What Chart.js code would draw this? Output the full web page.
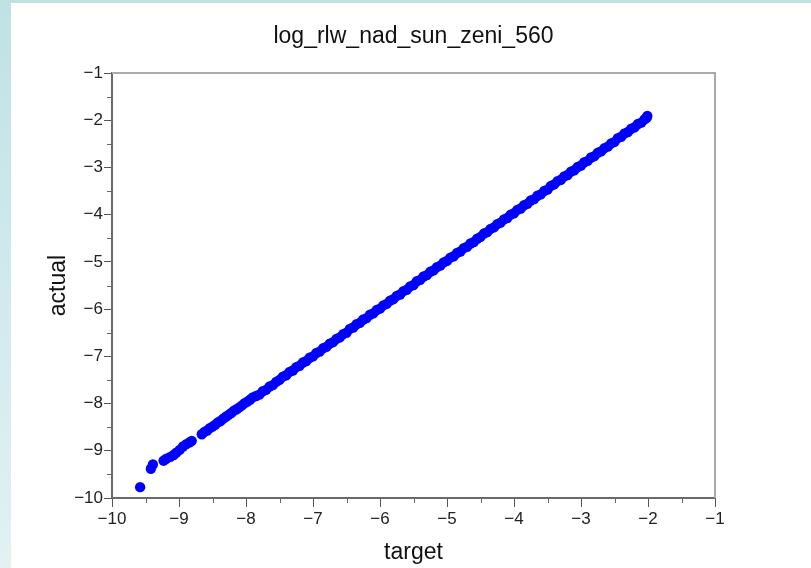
<!DOCTYPE html>
<html>
<head>
<meta charset="utf-8">
<title>log_rlw_nad_sun_zeni_560</title>
<script src="https://cdn.jsdelivr.net/npm/chart.js@4.4.1/dist/chart.umd.min.js"></script>
<style>
  html, body { margin: 0; padding: 0; }
  body {
    width: 811px;
    height: 568px;
    overflow: hidden;
    background: linear-gradient(to bottom, #bfe2e5, #e3f1f3);
    position: relative;
  }
  #chart {
    position: absolute;
    left: 11px;
    top: 3px;
    background: #fff;
  }
</style>
</head>
<body>
<canvas id="chart" width="800" height="565"></canvas>
<script>
// target vs actual values (log space)
const target = [
  -9.58, -9.42, -9.39, -9.23, -9.19, -9.13, -9.08, -9.04, -8.99, -8.94, -8.89, -8.84, -8.81,
  -8.66, -8.62, -8.58, -8.54, -8.50, -8.46, -8.42, -8.38, -8.34, -8.30, -8.26, -8.22, -8.18,
  -8.14, -8.10, -8.06, -8.02, -7.98, -7.94, -7.90,
  -7.85, -7.80, -7.75, -7.70, -7.65, -7.60, -7.55, -7.50, -7.45, -7.40, -7.35, -7.30, -7.25,
  -7.20, -7.15, -7.10, -7.05, -7.00, -6.95, -6.90, -6.85, -6.80, -6.75, -6.70, -6.65, -6.60,
  -6.55, -6.50, -6.45, -6.40, -6.35, -6.30, -6.25, -6.20, -6.15, -6.10, -6.05, -6.00, -5.95,
  -5.90, -5.85, -5.80, -5.75, -5.70, -5.65, -5.60, -5.55, -5.50, -5.45, -5.40, -5.35, -5.30,
  -5.25, -5.20, -5.15, -5.10, -5.05, -5.00, -4.95, -4.90, -4.85, -4.80, -4.75, -4.70, -4.65,
  -4.60, -4.55, -4.50, -4.45, -4.40, -4.35, -4.30, -4.25, -4.20, -4.15, -4.10, -4.05, -4.00,
  -3.95, -3.90, -3.85, -3.80, -3.75, -3.70, -3.65, -3.60, -3.55, -3.50, -3.45, -3.40, -3.35,
  -3.30, -3.25, -3.20, -3.15, -3.10, -3.05, -3.00, -2.95, -2.90, -2.85, -2.80, -2.75, -2.70,
  -2.65, -2.60, -2.55, -2.50, -2.45, -2.40, -2.35, -2.30, -2.25, -2.20, -2.15, -2.10, -2.05,
  -2.02, -2.01
];
const actual = [
  -9.77, -9.38, -9.29, -9.21, -9.17, -9.13, -9.09, -9.04, -8.98, -8.91, -8.86, -8.82, -8.79,
  -8.65, -8.60, -8.57, -8.52, -8.49, -8.45, -8.40, -8.37, -8.32, -8.28, -8.24, -8.20, -8.15,
  -8.12, -8.08, -8.04, -7.99, -7.96, -7.92, -7.87,
  -7.84, -7.81, -7.74, -7.71, -7.64, -7.61, -7.54, -7.50, -7.43, -7.40, -7.33, -7.30, -7.23,
  -7.20, -7.13, -7.10, -7.03, -7.00, -6.93, -6.90, -6.83, -6.80, -6.73, -6.70, -6.63, -6.60,
  -6.53, -6.50, -6.42, -6.39, -6.32, -6.29, -6.22, -6.19, -6.12, -6.09, -6.02, -5.99, -5.92,
  -5.89, -5.82, -5.79, -5.72, -5.69, -5.62, -5.59, -5.52, -5.49, -5.41, -5.38, -5.31, -5.28,
  -5.21, -5.18, -5.11, -5.08, -5.01, -4.98, -4.91, -4.88, -4.81, -4.78, -4.71, -4.68, -4.61,
  -4.58, -4.51, -4.47, -4.40, -4.37, -4.30, -4.27, -4.20, -4.17, -4.10, -4.07, -4.00, -3.97,
  -3.90, -3.87, -3.80, -3.77, -3.70, -3.67, -3.60, -3.57, -3.50, -3.47, -3.39, -3.36, -3.29,
  -3.26, -3.19, -3.16, -3.09, -3.06, -2.99, -2.96, -2.89, -2.86, -2.79, -2.76, -2.69, -2.66,
  -2.59, -2.56, -2.49, -2.46, -2.38, -2.35, -2.28, -2.25, -2.18, -2.15, -2.08, -2.05, -1.98,
  -1.95, -1.91
];

const axisMin = -10;
const axisMax = -1;

const minus = (v) => String(v).replace('-', '\u2212');

// half-unit minor ticks and the light frame on top/right
const frameAndMinor = {
  id: 'frameAndMinor',
  afterDraw(chart) {
    const { ctx, chartArea: a, scales: { x, y } } = chart;
    ctx.save();
    ctx.strokeStyle = '#aaaaaa';
    ctx.lineWidth = 2;
    ctx.beginPath();
    ctx.moveTo(a.left, a.top);
    ctx.lineTo(a.right, a.top);
    ctx.lineTo(a.right, a.bottom);
    ctx.stroke();

    ctx.strokeStyle = '#666666';
    ctx.lineWidth = 1;
    ctx.beginPath();
    for (let v = axisMin + 0.5; v < axisMax; v += 1) {
      const px = Math.round(x.getPixelForValue(v)) + 0.5;
      ctx.moveTo(px, a.bottom);
      ctx.lineTo(px, a.bottom + 5);
      const py = Math.round(y.getPixelForValue(v)) + 0.5;
      ctx.moveTo(a.left - 5, py);
      ctx.lineTo(a.left, py);
    }
    ctx.stroke();
    ctx.restore();
  }
};

const font = "'Liberation Sans', Arial, sans-serif";

new Chart(document.getElementById('chart'), {
  type: 'scatter',
  data: {
    datasets: [{
      label: 'actual',
      data: target.map((t, i) => ({ x: t, y: actual[i] })),
      backgroundColor: '#0000ff',
      borderWidth: 0,
      pointRadius: 5.2,
      pointHoverRadius: 5.2
    }]
  },
  options: {
    responsive: false,
    animation: false,
    devicePixelRatio: 1,
    layout: { padding: { left: 0, right: 96, top: 0, bottom: 0 } },
    plugins: {
      legend: { display: false },
      tooltip: { enabled: false },
      title: {
        display: true,
        fullSize: false,
        text: 'log_rlw_nad_sun_zeni_560',
        color: '#111',
        font: { family: font, size: 23, weight: 'normal' },
        padding: { top: 20, bottom: 22.4 }
      }
    },
    scales: {
      x: {
        type: 'linear',
        position: 'bottom',
        min: axisMin,
        max: axisMax,
        afterFit: (s) => { s.height = 70; },
        grid: { display: true, drawOnChartArea: false, drawTicks: true, tickLength: 9, color: '#555' },
        border: { display: true, color: '#6a6a6a', width: 2 },
        ticks: {
          stepSize: 1,
          padding: 2,
          color: '#222',
          font: { family: font, size: 17 },
          callback: minus
        },
        title: {
          display: true,
          text: 'target',
          color: '#111',
          font: { family: font, size: 23 },
          padding: { top: 0, bottom: 2 }
        }
      },
      y: {
        type: 'linear',
        position: 'left',
        min: axisMin,
        max: axisMax,
        afterFit: (s) => { s.width = 101; },
        grid: { display: true, drawOnChartArea: false, drawTicks: true, tickLength: 8, color: '#555' },
        border: { display: true, color: '#6a6a6a', width: 2 },
        ticks: {
          stepSize: 1,
          padding: 1,
          color: '#222',
          font: { family: font, size: 17 },
          callback: minus
        },
        title: {
          display: true,
          text: 'actual',
          color: '#111',
          font: { family: font, size: 23 },
          padding: { top: 34, bottom: 0 }
        }
      }
    }
  },
  plugins: [frameAndMinor]
});
</script>
</body>
</html>
